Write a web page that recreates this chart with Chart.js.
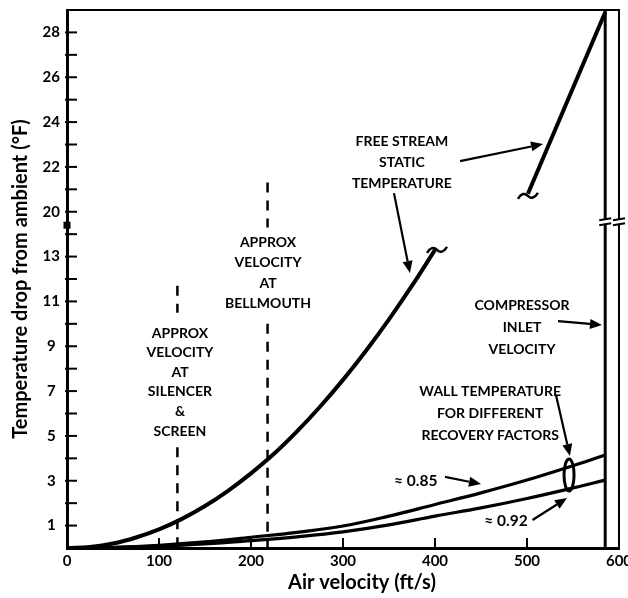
<!DOCTYPE html>
<html><head><meta charset="utf-8">
<script src="https://cdn.jsdelivr.net/npm/chart.js@4"></script>
<style>html,body{margin:0;padding:0;background:#fff}canvas{display:block}</style>
</head><body>
<canvas id="c" width="628" height="598" style="width:628px;height:598px"></canvas>
<script>
// ---------- data ----------
const xTickValues = [0, 100, 200, 300, 400, 500, 600];
const yTickPositions = [1, 3, 5, 7, 9, 11, 13, 15, 17, 19, 21, 23];
const yTickLabels = ['1', '3', '5', '7', '9', '11', '13', '20', '22', '24', '26', '28'];
const BREAK_AT = 20, BREAK_SHIFT = 5;           // axis jumps from ~14 to 20
function disp(v) { return v >= BREAK_AT ? v - BREAK_SHIFT : v; }

const freeLowV = [0, 25, 50, 75, 100, 125, 150, 175, 200, 225, 250, 275, 300, 325, 350, 375, 400];
const freeLowT = [0, 0.05, 0.2, 0.47, 0.83, 1.3, 1.87, 2.55, 3.33, 4.2, 5.2, 6.3, 7.5, 8.8, 10.2, 11.7, 13.3];
const freeHighV = [501, 543, 585];
const freeHighT = [20.8, 24.85, 28.9];
const wallV = [0, 50, 100, 150, 200, 250, 300, 350, 400, 450, 500, 550, 585];
const wall085 = [0, 0.03, 0.12, 0.27, 0.48, 0.7, 0.98, 1.42, 1.94, 2.46, 3.03, 3.67, 4.15];
const wall092 = [0, 0.02, 0.08, 0.18, 0.33, 0.5, 0.72, 1.03, 1.42, 1.79, 2.21, 2.68, 3.03];
const silencerV = 120, silencerSegs = [[11.7, 10.5], [4.5, 0]];
const bellV = 218, bellSegs = [[21.3, 14.3], [10.0, 0]];
const compressorV = 585, compressorT = [0, 29];

// ---------- build ----------
const pts = (xs, ys) => xs.map((x, i) => ({ x, y: disp(ys[i]) }));
function vline(x, segs) {
  const out = [];
  segs.forEach((s, i) => {
    if (i) out.push({ x, y: null });
    out.push({ x, y: disp(s[0]) }, { x, y: disp(s[1]) });
  });
  return out;
}
const base = { borderColor: '#000', pointRadius: 0, fill: false, spanGaps: false };

const FONT = 'Lato';
const texts = [
  { x: 364, y: 18.15, lh: 21, size: 14, lines: ['FREE STREAM', 'STATIC', 'TEMPERATURE'] },
  { x: 218.5, y: 13.65, lh: 20.5, size: 14, lines: ['APPROX', 'VELOCITY', 'AT', 'BELLMOUTH'] },
  { x: 122.8, y: 9.59, lh: 19.6, size: 14, lines: ['APPROX', 'VELOCITY', 'AT', 'SILENCER', '&', 'SCREEN'] },
  { x: 494.6, y: 10.84, lh: 22, size: 14, lines: ['COMPRESSOR', 'INLET', 'VELOCITY'] },
  { x: 460, y: 6.96, lh: 22, size: 14, lines: ['WALL TEMPERATURE', 'FOR DIFFERENT', 'RECOVERY FACTORS'] },
  { x: 379, y: 2.99, lh: 0, size: 15.5, lines: ['\u2248 0.85'] },
  { x: 477.2, y: 1.2, lh: 0, size: 15.5, lines: ['\u2248 0.92'] }
];
const arrows = [
  [355.4, 15.83, 372.8, 12.27],
  [427.2, 17.26, 517.4, 18.02],
  [533.7, 10.12, 581.5, 9.95],
  [531.5, 6.82, 546.7, 4.10],
  [410.9, 3.17, 450.0, 2.85],
  [506.0, 1.25, 543.5, 2.23]
];
const ellipse = { x: 545.7, y: 3.26, rx: 5, ry: 16 };

const decor = {
  id: 'decor',
  beforeDraw(c) {
    const ctx = c.ctx; ctx.save(); ctx.fillStyle = '#fff'; ctx.fillRect(0, 0, c.width, c.height); ctx.restore();
  },
  afterDraw(c) {
    const ctx = c.ctx, xs = c.scales.x, ys = c.scales.y, a = c.chartArea;
    const X = v => xs.getPixelForValue(v), Y = v => ys.getPixelForValue(v);
    ctx.save();
    ctx.strokeStyle = '#000'; ctx.fillStyle = '#000';
    // frame top/right
    ctx.lineWidth = 2;
    ctx.beginPath(); ctx.moveTo(a.left, a.top); ctx.lineTo(a.right, a.top); ctx.lineTo(a.right, a.bottom); ctx.stroke();
    // inward ticks
    for (let d = 1; d <= 23; d++) {
      const y = Y(d); ctx.beginPath(); ctx.moveTo(a.left - 2, y); ctx.lineTo(a.left + 10, y); ctx.stroke();
    }
    for (const v of xTickValues) {
      if (v === 0 || v === 600) continue;
      const x = X(v); ctx.beginPath(); ctx.moveTo(x, a.bottom); ctx.lineTo(x, a.bottom - 10); ctx.stroke();
    }
    // axis break marks
    const yb = Y(14.4);
    ctx.fillRect(a.left - 3.5, yb - 3.5, 7, 7);
    const yb2 = Y(14.55);
    for (const x of [X(compressorV), a.right]) {
      ctx.fillStyle = '#fff'; ctx.fillRect(x - 4, yb2 - 2, 8, 4); ctx.fillStyle = '#000';
      ctx.lineWidth = 2;
      ctx.beginPath(); ctx.moveTo(x - 6, yb2 - 1.5); ctx.lineTo(x + 6, yb2 - 3.5); ctx.stroke();
      ctx.beginPath(); ctx.moveTo(x - 6, yb2 + 3.5); ctx.lineTo(x + 6, yb2 + 1.5); ctx.stroke();
    }
    // tildes at curve breaks
    function tilde(cx, cy) {
      ctx.lineWidth = 2.5;
      ctx.beginPath(); ctx.moveTo(cx - 10, cy + 3);
      ctx.quadraticCurveTo(cx - 5, cy - 5, cx, cy);
      ctx.quadraticCurveTo(cx + 5, cy + 5, cx + 10, cy - 3); ctx.stroke();
    }
    tilde(X(freeLowV[freeLowV.length - 1]) + 2, Y(disp(freeLowT[freeLowT.length - 1])));
    tilde(X(freeHighV[0]), Y(disp(freeHighT[0])) + 2);
    // ellipse
    ctx.lineWidth = 3;
    ctx.beginPath(); ctx.ellipse(X(ellipse.x), Y(ellipse.y), ellipse.rx, ellipse.ry, 0, 0, Math.PI * 2); ctx.stroke();
    // arrows
    for (const [x1, y1, x2, y2] of arrows) {
      const p1 = [X(x1), Y(y1)], p2 = [X(x2), Y(y2)];
      const ang = Math.atan2(p2[1] - p1[1], p2[0] - p1[0]);
      const L = 12, W = 5;
      const bx = p2[0] - L * Math.cos(ang), by = p2[1] - L * Math.sin(ang);
      ctx.lineWidth = 2.2;
      ctx.beginPath(); ctx.moveTo(p1[0], p1[1]); ctx.lineTo(bx, by); ctx.stroke();
      ctx.beginPath(); ctx.moveTo(p2[0], p2[1]);
      ctx.lineTo(bx + W * Math.sin(ang), by - W * Math.cos(ang));
      ctx.lineTo(bx - W * Math.sin(ang), by + W * Math.cos(ang));
      ctx.closePath(); ctx.fill();
    }
    // texts
    ctx.textAlign = 'center'; ctx.textBaseline = 'middle';
    for (const t of texts) {
      ctx.font = 'bold ' + t.size + 'px ' + FONT;
      const cx = X(t.x), cy = Y(t.y);
      t.lines.forEach((s, i) => ctx.fillText(s, cx, cy + i * t.lh));
    }
    // x axis title
    ctx.font = 'bold 20px ' + FONT;
    ctx.fillText('Air velocity (ft/s)', 362, 583);
    ctx.restore();
  }
};

new Chart(document.getElementById('c'), {
  type: 'line',
  data: {
    datasets: [
      { ...base, data: pts(freeLowV, freeLowT), borderWidth: 4, tension: 0.4 },
      { ...base, data: pts(freeHighV, freeHighT), borderWidth: 4, tension: 0 },
      { ...base, data: pts(wallV, wall085), borderWidth: 3.2, tension: 0.4 },
      { ...base, data: pts(wallV, wall092), borderWidth: 3.2, tension: 0.4 },
      { ...base, data: vline(silencerV, silencerSegs), borderWidth: 2.5, borderDash: [10, 8], tension: 0 },
      { ...base, data: vline(bellV, bellSegs), borderWidth: 2.5, borderDash: [10, 8], tension: 0 },
      { ...base, data: pts([compressorV, compressorV], compressorT), borderWidth: 3, tension: 0 }
    ]
  },
  options: {
    responsive: false, animation: false, devicePixelRatio: 1,
    layout: { padding: { top: 10, right: 9, left: 0, bottom: 0 } },
    plugins: { legend: { display: false }, tooltip: { enabled: false } },
    scales: {
      x: {
        type: 'linear', min: 0, max: 600,
        afterBuildTicks: s => { s.ticks = xTickValues.map(v => ({ value: v })); },
        afterFit: s => { s.height = 50; s.paddingLeft = 0; s.paddingRight = 0; },
        grid: { display: false, drawTicks: false },
        border: { display: true, width: 3, color: '#000' },
        ticks: { color: '#000', font: { family: FONT, weight: 'bold', size: 15 }, padding: 4, maxRotation: 0, autoSkip: false }
      },
      y: {
        type: 'linear', min: 0, max: 24,
        afterBuildTicks: s => { s.ticks = yTickPositions.map(v => ({ value: v })); },
        afterFit: s => { s.width = 67; s.paddingTop = 0; s.paddingBottom = 0; },
        grid: { display: false, drawTicks: false },
        border: { display: true, width: 3, color: '#000' },
        ticks: {
          color: '#000', font: { family: FONT, weight: 'bold', size: 15 }, padding: 7, crossAlign: 'center', autoSkip: false,
          callback: v => { const i = yTickPositions.indexOf(v); return i >= 0 ? yTickLabels[i] : ''; }
        },
        title: { display: true, text: 'Temperature drop from ambient (\u00B0F)', color: '#000',
                 font: { family: FONT, weight: 'bold', size: 20 }, padding: { top: 9, bottom: 0 } }
      }
    }
  },
  plugins: [decor]
});
</script>
</body></html>
